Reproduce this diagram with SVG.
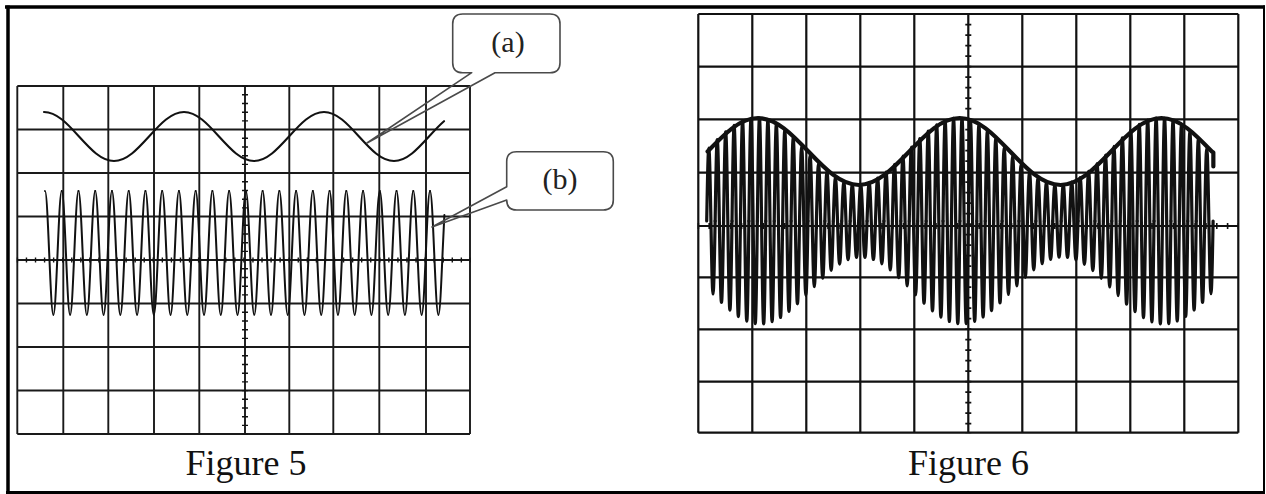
<svg xmlns="http://www.w3.org/2000/svg" xmlns:xlink="http://www.w3.org/1999/xlink" width="1266" height="494" viewBox="0 0 1266 494">
<style>
.grid5{fill:none;stroke:#1a1a1a;stroke-width:1.9}
.grid6{fill:none;stroke:#111;stroke-width:2.2}
.tick{fill:none;stroke:#111}
.sig{fill:none;stroke:#111;stroke-linecap:round;stroke-linejoin:round}
.callout{fill:none;stroke:#4a4a4a;stroke-width:1.6;stroke-linejoin:round}
.lbl{font-family:"Liberation Serif","Times New Roman",serif;font-size:30px;fill:#222;text-anchor:middle}
.cap{font-family:"Liberation Serif","Times New Roman",serif;font-size:36px;fill:#111;text-anchor:middle}
</style>
<defs>
<path id="cyc5" class="sig" style="stroke-width:2" d="M0,0 c1.515,0 2.820,30.24 4.185,62 c1.365,31.76 2.670,62 4.185,62 c1.515,0 2.820,-30.24 4.185,-62 c1.365,-31.76 2.670,-62 4.185,-62"/>
<path id="cyc6" class="sig" style="stroke-width:3.2" vector-effect="non-scaling-stroke" d="M0,0 c0.688,-51.23 1.346,-100 2.11,-100 c0.764,0 1.422,48.77 2.11,100 c0.688,51.23 1.346,100 2.11,100 c0.764,0 1.422,-48.77 2.11,-100"/>
</defs>
<rect x="0" y="0" width="1266" height="494" fill="#fff"/>
<g id="frame" stroke="#000" fill="none">
<line x1="5" y1="7" x2="1265" y2="7" stroke-width="3.5"/>
<line x1="8" y1="5.5" x2="8" y2="494" stroke-width="3.5"/>
<line x1="1264" y1="5.5" x2="1264" y2="494" stroke-width="2"/>
<line x1="6" y1="492.5" x2="1265" y2="492.5" stroke-width="3"/>
</g>
<g id="figure5">
<path class="grid5" d="M17.3,86V434M63.3,86V434M108.3,86V434M154,86V434M199.3,86V434M245,86V434M289.3,86V434M333.3,86V434M379.3,86V434M426,86V434M470,86V434M17.3,86H470M17.3,129.5H470M17.3,173H470M17.3,216.5H470M17.3,260H470M17.3,303.5H470M17.3,347H470M17.3,390.5H470M17.3,434H470"/>
<line class="tick" x1="245" y1="85.4" x2="245" y2="434.6" stroke-width="6" stroke-dasharray="1.4,7.3"/>
<line class="tick" x1="16.7" y1="260" x2="470.6" y2="260" stroke-width="5" stroke-dasharray="1.4,7.66"/>
<g id="signal-a">
<path class="sig" style="stroke-width:2.1" d="M44,112 c12.67,0 23.58,11.95 35,24.5 c11.42,12.55 22.33,24.5 35,24.5 c12.67,0 23.58,-11.95 35,-24.5 c11.42,-12.55 22.33,-24.5 35,-24.5 c12.67,0 23.58,11.95 35,24.5 c11.42,12.55 22.33,24.5 35,24.5 c12.67,0 23.58,-11.95 35,-24.5 c11.42,-12.55 22.33,-24.5 35,-24.5 c12.67,0 23.58,11.95 35,24.5 c11.42,12.55 22.33,24.5 35,24.5 c12.67,0 23.58,-11.95 35,-24.5 c5,-5.5 10,-11 15,-15.3"/>
</g>
<g id="signal-b">
<use xlink:href="#cyc5" x="45" y="191"/>
<use xlink:href="#cyc5" x="61.74" y="191"/>
<use xlink:href="#cyc5" x="78.48" y="191"/>
<use xlink:href="#cyc5" x="95.22" y="191"/>
<use xlink:href="#cyc5" x="111.96" y="191"/>
<use xlink:href="#cyc5" x="128.7" y="191"/>
<use xlink:href="#cyc5" x="145.44" y="191"/>
<use xlink:href="#cyc5" x="162.18" y="191"/>
<use xlink:href="#cyc5" x="178.92" y="191"/>
<use xlink:href="#cyc5" x="195.66" y="191"/>
<use xlink:href="#cyc5" x="212.4" y="191"/>
<use xlink:href="#cyc5" x="229.14" y="191"/>
<use xlink:href="#cyc5" x="245.88" y="191"/>
<use xlink:href="#cyc5" x="262.62" y="191"/>
<use xlink:href="#cyc5" x="279.36" y="191"/>
<use xlink:href="#cyc5" x="296.1" y="191"/>
<use xlink:href="#cyc5" x="312.84" y="191"/>
<use xlink:href="#cyc5" x="329.58" y="191"/>
<use xlink:href="#cyc5" x="346.32" y="191"/>
<use xlink:href="#cyc5" x="363.06" y="191"/>
<use xlink:href="#cyc5" x="379.8" y="191"/>
<use xlink:href="#cyc5" x="396.54" y="191"/>
<use xlink:href="#cyc5" x="413.28" y="191"/>
<path class="sig" style="stroke-width:2" d="M430.02,191 c1.515,0 2.820,30.24 4.185,62 c1.365,31.76 2.670,62 4.185,62 c1.515,0 2.820,-30.24 4.185,-62 l1.8,-38"/>
</g>
<text class="cap" x="246" y="475">Figure 5</text>
</g>
<g id="callout-a">
<path class="callout" d="M462.7,14 H550 Q560,14 560,24 V62.7 Q560,72.7 550,72.7 H495 L367,143 L471.7,72.7 H462.7 Q452.7,72.7 452.7,62.7 V24 Q452.7,14 462.7,14 Z"/>
<text class="lbl" x="508" y="52">(a)</text>
</g>
<g id="callout-b">
<path class="callout" d="M516.7,151.7 H603.3 Q613.3,151.7 613.3,161.7 V200 Q613.3,210 603.3,210 H516.7 Q506.7,210 506.7,200 L432,227 L506.7,186.7 V161.7 Q506.7,151.7 516.7,151.7 Z"/>
<text class="lbl" x="560" y="189">(b)</text>
</g>
<g id="figure6">
<path class="grid6" d="M698.3,14V432.7M752.3,14V432.7M806.3,14V432.7M860.3,14V432.7M914.3,14V432.7M968.3,14V432.7M1022.3,14V432.7M1076.3,14V432.7M1130.3,14V432.7M1184.3,14V432.7M1238.3,14V432.7M698.3,14H1238.3M698.3,66.7H1238.3M698.3,119.3H1238.3M698.3,172.7H1238.3M698.3,226H1238.3M698.3,277.3H1238.3M698.3,329.3H1238.3M698.3,381.7H1238.3M698.3,432.7H1238.3"/>
<line class="tick" x1="968.3" y1="13.3" x2="968.3" y2="433.4" stroke-width="6" stroke-dasharray="1.6,8.9"/>
<line class="tick" x1="697.6" y1="226" x2="1239" y2="226" stroke-width="6" stroke-dasharray="1.6,9.2"/>
<g id="signal-am">
<use xlink:href="#cyc6" transform="translate(706.7,221) scale(1,0.730)"/>
<use xlink:href="#cyc6" transform="translate(715.14,221) scale(1,0.815)"/>
<use xlink:href="#cyc6" transform="translate(723.58,221) scale(1,0.892)"/>
<use xlink:href="#cyc6" transform="translate(732.02,221) scale(1,0.956)"/>
<use xlink:href="#cyc6" transform="translate(740.46,221) scale(1,1.002)"/>
<use xlink:href="#cyc6" transform="translate(748.9,221) scale(1,1.026)"/>
<use xlink:href="#cyc6" transform="translate(757.34,221) scale(1,1.028)"/>
<use xlink:href="#cyc6" transform="translate(765.78,221) scale(1,1.007)"/>
<use xlink:href="#cyc6" transform="translate(774.22,221) scale(1,0.964)"/>
<use xlink:href="#cyc6" transform="translate(782.66,221) scale(1,0.903)"/>
<use xlink:href="#cyc6" transform="translate(791.1,221) scale(1,0.828)"/>
<use xlink:href="#cyc6" transform="translate(799.54,221) scale(1,0.744)"/>
<use xlink:href="#cyc6" transform="translate(807.98,221) scale(1,0.656)"/>
<use xlink:href="#cyc6" transform="translate(816.42,221) scale(1,0.571)"/>
<use xlink:href="#cyc6" transform="translate(824.86,221) scale(1,0.494)"/>
<use xlink:href="#cyc6" transform="translate(833.3,221) scale(1,0.431)"/>
<use xlink:href="#cyc6" transform="translate(841.74,221) scale(1,0.387)"/>
<use xlink:href="#cyc6" transform="translate(850.18,221) scale(1,0.363)"/>
<use xlink:href="#cyc6" transform="translate(858.62,221) scale(1,0.363)"/>
<use xlink:href="#cyc6" transform="translate(867.06,221) scale(1,0.385)"/>
<use xlink:href="#cyc6" transform="translate(875.5,221) scale(1,0.428)"/>
<use xlink:href="#cyc6" transform="translate(883.94,221) scale(1,0.490)"/>
<use xlink:href="#cyc6" transform="translate(892.38,221) scale(1,0.566)"/>
<use xlink:href="#cyc6" transform="translate(900.82,221) scale(1,0.650)"/>
<use xlink:href="#cyc6" transform="translate(909.26,221) scale(1,0.738)"/>
<use xlink:href="#cyc6" transform="translate(917.7,221) scale(1,0.823)"/>
<use xlink:href="#cyc6" transform="translate(926.14,221) scale(1,0.899)"/>
<use xlink:href="#cyc6" transform="translate(934.58,221) scale(1,0.961)"/>
<use xlink:href="#cyc6" transform="translate(943.02,221) scale(1,1.005)"/>
<use xlink:href="#cyc6" transform="translate(951.46,221) scale(1,1.027)"/>
<use xlink:href="#cyc6" transform="translate(959.9,221) scale(1,1.027)"/>
<use xlink:href="#cyc6" transform="translate(968.34,221) scale(1,1.004)"/>
<use xlink:href="#cyc6" transform="translate(976.78,221) scale(1,0.959)"/>
<use xlink:href="#cyc6" transform="translate(985.22,221) scale(1,0.897)"/>
<use xlink:href="#cyc6" transform="translate(993.66,221) scale(1,0.820)"/>
<use xlink:href="#cyc6" transform="translate(1002.1,221) scale(1,0.735)"/>
<use xlink:href="#cyc6" transform="translate(1010.54,221) scale(1,0.648)"/>
<use xlink:href="#cyc6" transform="translate(1018.98,221) scale(1,0.563)"/>
<use xlink:href="#cyc6" transform="translate(1027.42,221) scale(1,0.488)"/>
<use xlink:href="#cyc6" transform="translate(1035.86,221) scale(1,0.426)"/>
<use xlink:href="#cyc6" transform="translate(1044.3,221) scale(1,0.383)"/>
<use xlink:href="#cyc6" transform="translate(1052.74,221) scale(1,0.362)"/>
<use xlink:href="#cyc6" transform="translate(1061.18,221) scale(1,0.364)"/>
<use xlink:href="#cyc6" transform="translate(1069.62,221) scale(1,0.388)"/>
<use xlink:href="#cyc6" transform="translate(1078.06,221) scale(1,0.433)"/>
<use xlink:href="#cyc6" transform="translate(1086.5,221) scale(1,0.496)"/>
<use xlink:href="#cyc6" transform="translate(1094.94,221) scale(1,0.573)"/>
<use xlink:href="#cyc6" transform="translate(1103.38,221) scale(1,0.659)"/>
<use xlink:href="#cyc6" transform="translate(1111.82,221) scale(1,0.747)"/>
<use xlink:href="#cyc6" transform="translate(1120.26,221) scale(1,0.831)"/>
<use xlink:href="#cyc6" transform="translate(1128.7,221) scale(1,0.906)"/>
<use xlink:href="#cyc6" transform="translate(1137.14,221) scale(1,0.966)"/>
<use xlink:href="#cyc6" transform="translate(1145.58,221) scale(1,1.008)"/>
<use xlink:href="#cyc6" transform="translate(1154.02,221) scale(1,1.028)"/>
<use xlink:href="#cyc6" transform="translate(1162.46,221) scale(1,1.026)"/>
<use xlink:href="#cyc6" transform="translate(1170.9,221) scale(1,1.000)"/>
<use xlink:href="#cyc6" transform="translate(1179.34,221) scale(1,0.954)"/>
<use xlink:href="#cyc6" transform="translate(1187.78,221) scale(1,0.890)"/>
<use xlink:href="#cyc6" transform="translate(1196.22,221) scale(1,0.813)"/>
<use xlink:href="#cyc6" transform="translate(1204.66,221) scale(1,0.727)"/>
<path class="sig" style="stroke-width:4.2" d="M707.6,151.5 c16.44,-17.16 32.17,-33.5 50.425,-33.5 c18.25,0 33.98,16.34 50.425,33.5 c16.44,17.16 32.17,33.5 50.425,33.5 c18.25,0 33.98,-16.34 50.425,-33.5 c16.44,-17.16 32.17,-33.5 50.425,-33.5 c18.25,0 33.98,16.34 50.425,33.5 c16.44,17.16 32.17,33.5 50.425,33.5 c18.25,0 33.98,-16.34 50.425,-33.5 c16.44,-17.16 32.17,-33.5 50.425,-33.5 c18.25,0 33.98,16.34 50.425,33.5 l1.5,1 v14"/>
</g>
<text class="cap" x="968.5" y="475">Figure 6</text>
</g>
</svg>
